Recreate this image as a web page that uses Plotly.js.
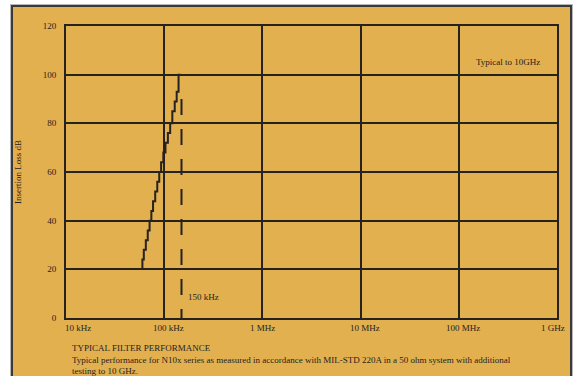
<!DOCTYPE html>
<html>
<head>
<meta charset="utf-8">
<script src="https://cdn.plot.ly/plotly-3.0.1.min.js"></script>
<style>
html,body{margin:0;padding:0;background:#ffffff;overflow:hidden;}
#frame{position:absolute;left:11px;top:5px;width:557px;height:380px;border:2px solid #3a3a3a;box-shadow:0 0 0 1px #b8b8b8;background:#e2b04f;}
#chart{width:557px;height:380px;}
</style>
</head>
<body>
<div id="frame"><div id="chart"></div></div>
<script>
// Insertion loss staircase (frequency in kHz, loss in dB)
var stairFreqKHz = [60, 62, 65, 68, 71, 74, 77, 81, 85, 89, 93, 98, 103, 109, 115, 121, 128, 134, 140, 147];
var stairLossDB  = [20, 24, 28, 32, 36, 40, 44, 48, 52, 56, 60, 64, 68, 72, 76, 80, 85, 89, 93, 100];
// 150 kHz marker line
var markerFreqKHz = [150, 150];
var markerLossDB  = [90, 0];
// Axis ticks
var xTickVals  = [1e4, 1e5, 1e6, 1e7, 1e8, 1e9];
var xTickText  = ["10 kHz", "100 kHz", "1 MHz", "10 MHz", "100 MHz", "1 GHz"];
var yTickVals  = [0, 20, 40, 60, 80, 100, 120];

var ink = '#262220';
var fnt = {family: '"Liberation Serif", "DejaVu Serif", serif', size: 9, color: ink};
// small horizontal nudges of the x tick labels (style only)
var xLabelNudge = [12, 4, 0, 4, 4, -4];

var traces = [
  {
    x: stairFreqKHz.map(function(f){return f*1000;}),
    y: stairLossDB,
    mode: 'lines',
    line: {color: ink, width: 2, shape: 'vh'},
    hoverinfo: 'skip'
  },
  {
    x: markerFreqKHz.map(function(f){return f*1000;}),
    y: markerLossDB,
    mode: 'lines',
    line: {color: ink, width: 2, dash: '16px,14px'},
    hoverinfo: 'skip'
  }
];

var annotations = [
  {text: 'Insertion Loss dB', xref: 'paper', yref: 'paper', x: 0, y: 0.5,
   xshift: -48, textangle: -90, showarrow: false, xanchor: 'center', yanchor: 'middle', font: fnt},
  {text: 'Typical to 10GHz', xref: 'x', yref: 'y', x: 8.5, y: 105.2,
   showarrow: false, xanchor: 'center', yanchor: 'middle', font: fnt},
  {text: '150 kHz', xref: 'x', yref: 'y', x: Math.log10(150000), y: 8.6, xshift: 5,
   showarrow: false, xanchor: 'left', yanchor: 'middle', font: fnt},
  {text: 'TYPICAL FILTER PERFORMANCE', xref: 'paper', yref: 'paper', x: 0.008, y: 0, yshift: -30,
   showarrow: false, xanchor: 'left', yanchor: 'middle', font: fnt},
  {text: 'Typical performance for N10x series as measured in accordance with MIL-STD 220A in a 50 ohm system with additional',
   xref: 'paper', yref: 'paper', x: 0.008, y: 0, yshift: -41.5,
   showarrow: false, xanchor: 'left', yanchor: 'middle', font: fnt},
  {text: 'testing to 10 GHz.', xref: 'paper', yref: 'paper', x: 0.008, y: 0, yshift: -53,
   showarrow: false, xanchor: 'left', yanchor: 'middle', font: fnt}
];
xTickVals.forEach(function(v, i){
  annotations.push({text: xTickText[i], xref: 'x', yref: 'paper', x: Math.log10(v), y: 0,
    yshift: -10, xshift: xLabelNudge[i], showarrow: false, xanchor: 'center', yanchor: 'middle', font: fnt});
});

var layout = {
  width: 557, height: 380,
  margin: {l: 53, r: 13, t: 19, b: 69},
  paper_bgcolor: '#e2b04f',
  plot_bgcolor: '#e2b04f',
  showlegend: false,
  font: fnt,
  xaxis: {
    type: 'log', range: [4, 9],
    tickvals: xTickVals, showticklabels: false,
    showgrid: true, gridcolor: ink, gridwidth: 2,
    showline: true, linecolor: ink, linewidth: 2, mirror: true,
    zeroline: false, ticks: ''
  },
  yaxis: {
    range: [0, 120],
    tickvals: yTickVals,
    showgrid: true, gridcolor: ink, gridwidth: 2,
    showline: true, linecolor: ink, linewidth: 2, mirror: true,
    zeroline: false, ticks: '', tickfont: fnt,
    ticklabelstandoff: 6
  },
  annotations: annotations
};

Plotly.newPlot('chart', traces, layout, {displayModeBar: false, staticPlot: true});
</script>
</body>
</html>
